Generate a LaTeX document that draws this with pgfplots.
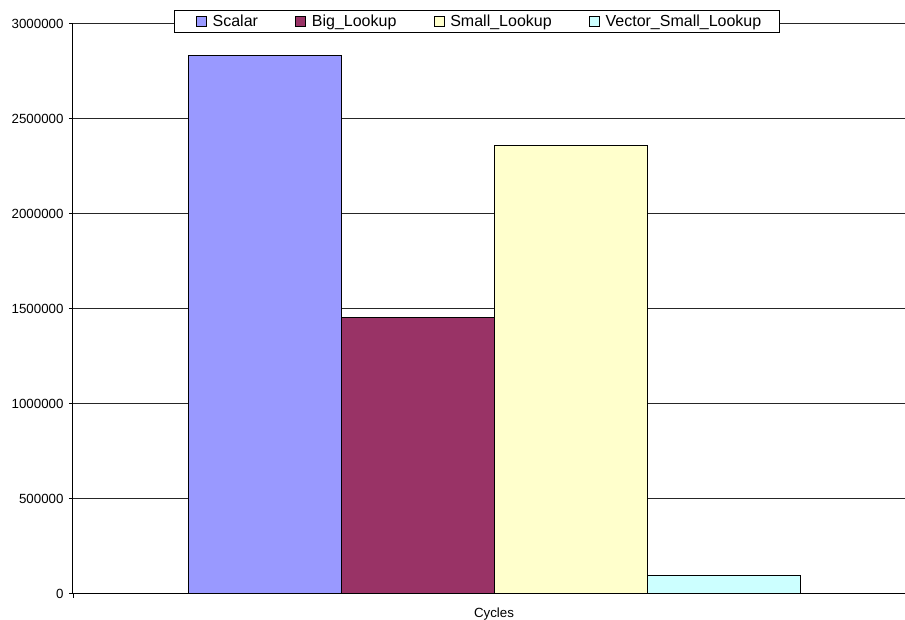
\documentclass[border=0pt]{standalone}
\usepackage{pgfplots}
\pgfplotsset{compat=1.18}
\usepackage{fontspec}
\setmainfont{Liberation Sans}
\definecolor{cScalar}{HTML}{9999FF}
\definecolor{cBig}{HTML}{993366}
\definecolor{cSmall}{HTML}{FFFFCC}
\definecolor{cVector}{HTML}{CCFFFF}
\pgfplotsset{
  mybar/.style={ybar, bar width=153, bar shift=0, draw=black, line width=1pt,
    legend image code/.code={\path (-5pt,0pt); \draw[##1,draw=black,line width=0.8pt] (0pt,-5pt) rectangle (10pt,5pt);}},
}
\begin{document}
\begin{tikzpicture}
\path[use as bounding box] (-73pt,-25.5pt) rectangle (832pt,593.5pt);
\begin{axis}[
  at={(0pt,0pt)}, anchor=south west,
  scale only axis, width=832pt, height=570pt,
  xmin=0, xmax=832, ymin=0, ymax=3000000,
  axis x line*=bottom, axis y line*=left,
  axis line style={-, line width=1pt, black},
  ytick={0,500000,1000000,1500000,2000000,2500000,3000000},
  scaled y ticks=false,
  /pgf/number format/assume math mode=true,
  yticklabel style={/pgf/number format/fixed, /pgf/number format/1000 sep={}, font=\fontsize{13.3}{16}\selectfont, xshift=-2pt},
  ymajorgrids, major grid style={black!85, line width=0.8pt},
  tick align=outside, major tick length=4pt, ytick style={black, line width=0.8pt},
  xtick={421}, xticklabels={Cycles}, xtick style={draw=none},
  extra x ticks={0}, extra x tick labels={},
  extra x tick style={xtick style={draw=black, line width=0.8pt}},
  xticklabel style={font=\fontsize{13.3}{16}\selectfont, anchor=base, yshift=-19.5pt},
  legend columns=4,
  legend style={at={(0.4856,1.0035)}, anchor=center, draw=black, line width=0.8pt, fill=white,
    font=\fontsize{16}{19}\selectfont, inner xsep=16pt, inner ysep=2.5pt,
    nodes={inner xsep=2pt, inner ysep=2pt},
    /tikz/every odd column/.append style={column sep=4pt},
    /tikz/every even column/.append style={column sep=30pt}},
]
\addplot[mybar, fill=cScalar] coordinates {(191.5,2834000)};
\addlegendentry{Scalar}
\addplot[mybar, fill=cBig] coordinates {(344.5,1453000)};
\addlegendentry{Big\_Lookup}
\addplot[mybar, fill=cSmall] coordinates {(497.5,2360000)};
\addlegendentry{Small\_Lookup}
\addplot[mybar, fill=cVector] coordinates {(650.5,94000)};
\addlegendentry{Vector\_Small\_Lookup}
\end{axis}
\end{tikzpicture}
\end{document}
